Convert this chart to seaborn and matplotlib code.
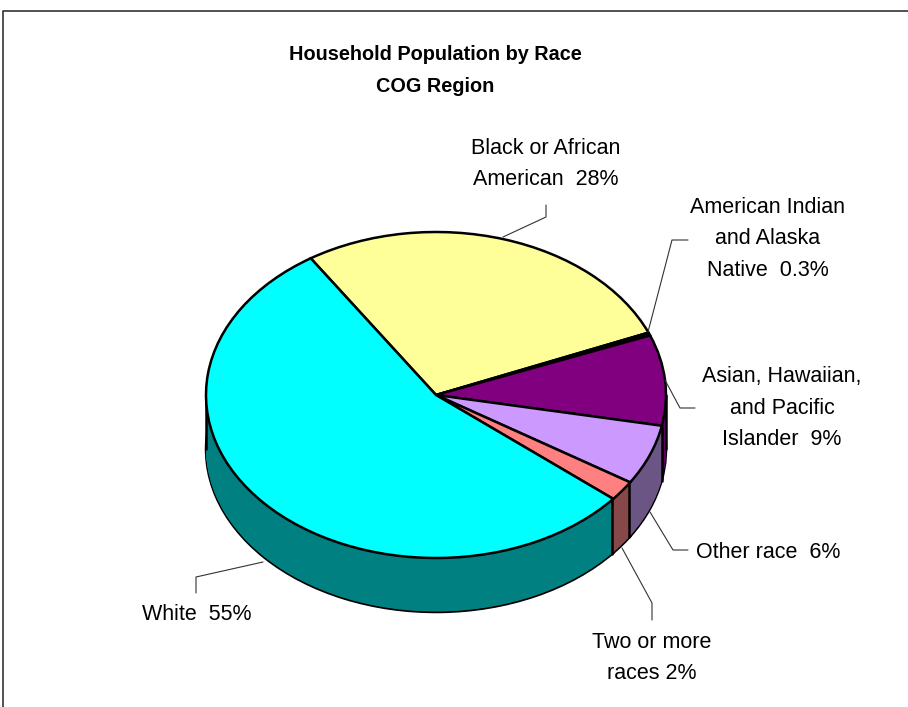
#!/usr/bin/env python3

import matplotlib
matplotlib.use('Agg')
import matplotlib.pyplot as plt
import numpy as np
import seaborn as sns

categories = ['Black or African American', 'American Indian and Alaska Native',
              'Asian, Hawaiian, and Pacific Islander', 'Other race', 'Two or more races', 'White']
values = [28, 0.3, 9, 6, 2, 55]
top_colors = ['#FFFF99', '#000000', '#800080', '#CC99FF', '#FF8080', '#00FFFF']
side_colors = ['#808050', '#000000', '#600060', '#6A5585', '#864848', '#008080']

# text, centre x, centre y of the block (pixels)
labels = [
    ('Black or African\nAmerican  28%', 546, 164),
    ('American Indian\nand Alaska\nNative  0.3%', 768, 239),
    ('Asian, Hawaiian,\nand Pacific\nIslander  9%', 782, 408),
    ('Other race  6%', 768, 552),
    ('Two or more\nraces 2%', 652, 658),
    ('White  55%', 197, 615),
]
leaders = [
    [(503, 237), (546, 217), (546, 205)],
    [(648, 332), (672, 240), (688, 240)],
    [(665, 380), (680, 408), (695, 408)],
    [(650, 512), (673, 550), (688, 550)],
    [(622, 548), (652, 603), (652, 620)],
    [(263, 562), (196, 577), (196, 593)],
]

W, H = 908, 707
CX, CY, RX, RY, DEPTH = 436, 395, 230, 163, 54
START = 123

sns.set_style('white')
plt.rcParams['font.family'] = ['Liberation Sans', 'DejaVu Sans']

fig = plt.figure(figsize=(W / 100, H / 100), dpi=100)
ax = fig.add_axes([0, 0, 1, 1])

# stacked pies make the side wall of the 3d pie
depth_units = DEPTH / RY
ax.pie(values, colors=side_colors, startangle=START, counterclock=False,
       center=(0, -depth_units), wedgeprops=dict(edgecolor='black', linewidth=1.8))
for i in range(DEPTH * 2 - 1, -1, -1):
    ax.pie(values, colors=side_colors, startangle=START, counterclock=False,
           center=(0, -depth_units * i / (DEPTH * 2)), wedgeprops=dict(linewidth=0))

# black walls at the visible slice boundaries and the outer tangents
ang = START
for v in values:
    ang -= v * 3.6
    x = np.cos(np.radians(ang))
    y = np.sin(np.radians(ang))
    if x > 0 and y < 0:
        ax.plot([x, x], [y, y - depth_units], color='black', lw=1.8, zorder=5)
ax.plot([-1, -1], [0, -depth_units], color='black', lw=1.8, zorder=5)
ax.plot([1, 1], [0, -depth_units], color='black', lw=1.8, zorder=5)

ax.pie(values, colors=top_colors, startangle=START, counterclock=False,
       wedgeprops=dict(edgecolor='black', linewidth=1.8))
for p in ax.patches[-len(values):]:
    p.set_zorder(6)

ax.set_aspect('auto')
ax.set_xlim(-CX / RX, (W - CX) / RX)
ax.set_ylim(-(H - CY) / RY, CY / RY)
ax.axis('off')

# overlay in pixel coordinates for the frame, labels and leaders
over = fig.add_axes([0, 0, 1, 1], facecolor='none')
over.set_xlim(0, W)
over.set_ylim(H, 0)
over.set_xticks([])
over.set_yticks([])
for s in over.spines.values():
    s.set_visible(False)

for pts in leaders:
    over.plot([p[0] for p in pts], [p[1] for p in pts], color='#333333', lw=0.8)
for text, x, y in labels:
    over.text(x, y, text, ha='center', va='center', fontsize=15.5, linespacing=1.66, color='black')
over.text(435, 70.5, 'Household Population by Race\nCOG Region', ha='center', va='center',
          fontsize=14.3, fontweight='bold', linespacing=1.86, color='black')

over.plot([3, 3, W], [H, 11, 11], color='#333333', lw=1.2)

fig.savefig('out.png', dpi=100)
